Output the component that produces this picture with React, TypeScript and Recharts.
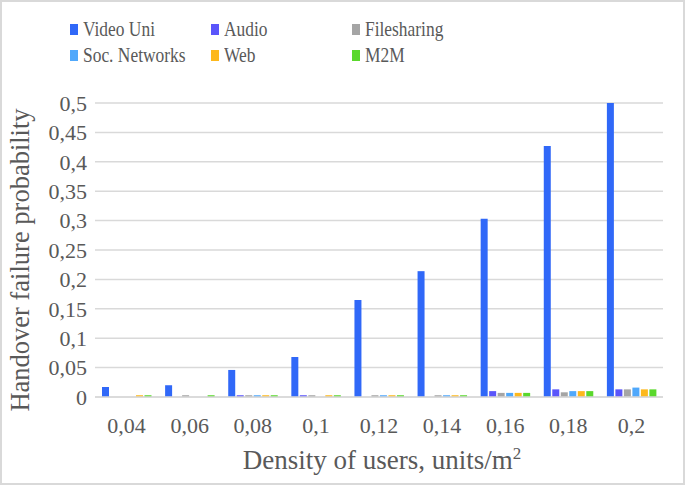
import { BarChart, Bar, XAxis, YAxis, CartesianGrid } from "recharts";

const categories = ["0,04", "0,06", "0,08", "0,1", "0,12", "0,14", "0,16", "0,18", "0,2"];
const yTicks = [0, 0.05, 0.1, 0.15, 0.2, 0.25, 0.3, 0.35, 0.4, 0.45, 0.5];

const videoUni = [0.017, 0.02, 0.046, 0.068, 0.165, 0.214, 0.303, 0.427, 0.5];
const audio = [0, 0, 0.003, 0.003, 0, 0, 0.01, 0.013, 0.013];
const filesharing = [0, 0.003, 0.003, 0.003, 0.003, 0.003, 0.007, 0.008, 0.013];
const socNetworks = [0, 0, 0.003, 0, 0.003, 0.003, 0.007, 0.01, 0.016];
const web = [0.003, 0, 0.003, 0.003, 0.003, 0.003, 0.007, 0.01, 0.013];
const m2m = [0.003, 0.003, 0.003, 0.003, 0.003, 0.003, 0.007, 0.01, 0.013];

const series = [
    { key: "videoUni", name: "Video Uni", color: "#3068f8" },
    { key: "audio", name: "Audio", color: "#5a55fb" },
    { key: "filesharing", name: "Filesharing", color: "#a5a5a5" },
    { key: "socNetworks", name: "Soc. Networks", color: "#50a8fb" },
    { key: "web", name: "Web", color: "#fdb81c" },
    { key: "m2m", name: "M2M", color: "#5ad82c" },
];

const data = categories.map((c, i) => ({
    density: c,
    videoUni: videoUni[i],
    audio: audio[i],
    filesharing: filesharing[i],
    socNetworks: socNetworks[i],
    web: web[i],
    m2m: m2m[i],
}));

const FONT = "'Liberation Serif', 'Times New Roman', serif";
const TEXT = "#595959";

// legend is drawn as html on top of the chart, 3 columns x 2 rows
function LegendGrid() {
    return (
        <div
            style={{
                position: "absolute",
                top: 18,
                left: 70,
                display: "grid",
                gridTemplateColumns: "141px 141px 141px",
                rowGap: 4,
                fontFamily: FONT,
                fontSize: 21.5,
                color: TEXT,
                lineHeight: "22px",
            }}
        >
            {series.map((s) => (
                <div key={s.key} style={{ display: "flex", alignItems: "center", whiteSpace: "nowrap" }}>
                    <span
                        style={{
                            width: 8,
                            height: 11,
                            background: s.color,
                            marginRight: 5,
                            display: "inline-block",
                            flexShrink: 0,
                        }}
                    />
                    <span style={{ display: "inline-block", transform: "scaleX(0.81)", transformOrigin: "left center" }}>
                        {s.name}
                    </span>
                </div>
            ))}
        </div>
    );
}

export default function App() {
    return (
        <div style={{ position: "absolute", top: 0, left: 0, width: 685, height: 485, background: "#fff" }}>
            <BarChart
                width={685}
                height={485}
                data={data}
                margin={{ top: 103, right: 22, bottom: 28, left: 0 }}
                barSize={7}
                barGap={1.5}
            >
                <CartesianGrid vertical={false} stroke="#d9d9d9" strokeWidth={1.5} />
                <XAxis
                    dataKey="density"
                    axisLine={{ stroke: "#d9d9d9", strokeWidth: 1.5 }}
                    tickLine={false}
                    tickMargin={14}
                    height={60}
                    tick={{ fill: TEXT, fontSize: 22, fontFamily: FONT }}
                    label={{
                        content: ({ viewBox }: any) => (
                            <text
                                x={viewBox.x + viewBox.width / 2 + 3}
                                y={viewBox.y + 72}
                                textAnchor="middle"
                                fill={TEXT}
                                fontSize={27}
                                fontFamily={FONT}
                            >
                                Density of users, units/m
                                <tspan dy={-10} fontSize={17}>2</tspan>
                            </text>
                        ),
                    }}
                />
                <YAxis
                    width={95}
                    domain={[0, 0.5]}
                    ticks={yTicks}
                    interval={0}
                    axisLine={false}
                    tickLine={false}
                    tick={{ fill: TEXT, fontSize: 22, fontFamily: FONT }}
                    tickFormatter={(v: number) => String(v).replace(".", ",")}
                    label={{
                        content: ({ viewBox }: any) => {
                            const cy = viewBox.y + viewBox.height / 2 + 10;
                            return (
                                <text
                                    x={29}
                                    y={cy}
                                    transform={`rotate(-90, 29, ${cy})`}
                                    textAnchor="middle"
                                    fill={TEXT}
                                    fontSize={26.5}
                                    fontFamily={FONT}
                                >
                                    Handover failure probability
                                </text>
                            );
                        },
                    }}
                />
                {series.map((s) => (
                    <Bar
                        key={s.key}
                        dataKey={s.key}
                        name={s.name}
                        fill={s.color}
                        isAnimationActive={false}
                    />
                ))}
            </BarChart>
            <LegendGrid />
            <div
                style={{
                    position: "absolute",
                    inset: 0,
                    border: "2px solid #d9d9d9",
                    pointerEvents: "none",
                }}
            />
        </div>
    );
}
